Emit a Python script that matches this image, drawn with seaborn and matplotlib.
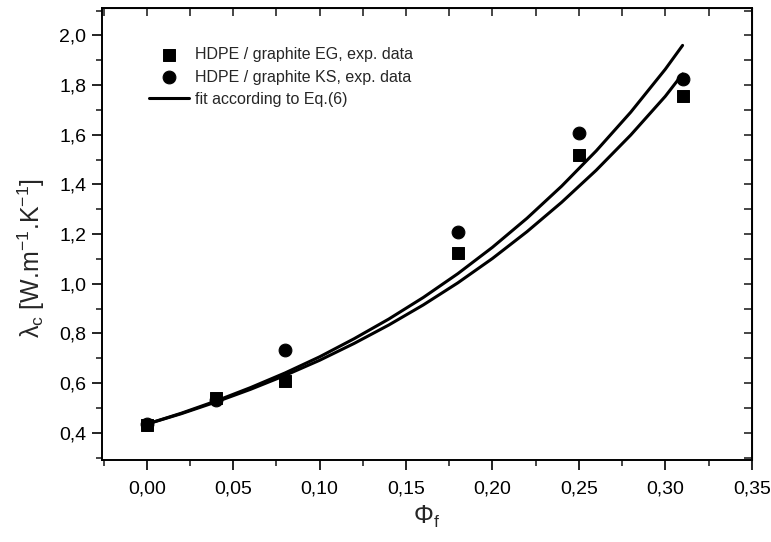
import numpy as np
import pandas as pd
import matplotlib
matplotlib.use("Agg")
import matplotlib.pyplot as plt
from matplotlib.ticker import MultipleLocator, FuncFormatter
import seaborn as sns

phi = [0.00, 0.04, 0.08, 0.18, 0.25, 0.31]
lam_eg = [0.432, 0.541, 0.609, 1.124, 1.518, 1.755]
lam_ks = [0.436, 0.532, 0.733, 1.208, 1.606, 1.823]

phi_fit = [0.00, 0.02, 0.04, 0.06, 0.08, 0.10, 0.12, 0.14, 0.16,
           0.18, 0.20, 0.22, 0.24, 0.26, 0.28, 0.30, 0.31]
fit_ks = [0.435, 0.479, 0.528, 0.582, 0.641, 0.706, 0.779, 0.858, 0.945,
          1.041, 1.147, 1.264, 1.393, 1.535, 1.691, 1.864, 1.960]
fit_eg = [0.435, 0.477, 0.524, 0.575, 0.631, 0.692, 0.760, 0.834, 0.915,
          1.004, 1.102, 1.210, 1.328, 1.457, 1.599, 1.755, 1.845]

sns.set_style("ticks")
plt.rcParams['font.family'] = ['Liberation Sans', 'DejaVu Sans']
plt.rcParams['mathtext.fontset'] = 'custom'
plt.rcParams['mathtext.rm'] = 'Liberation Sans'
plt.rcParams['mathtext.it'] = 'Liberation Sans'

fig = plt.figure(figsize=(7.71, 5.42), dpi=100)
ax = fig.add_axes([0.132, 0.151, 0.843, 0.834])

sns.lineplot(x=phi_fit, y=fit_ks, color='black', lw=2.2, ax=ax,
             label='fit according to Eq.(6)')
sns.lineplot(x=phi_fit, y=fit_eg, color='black', lw=2.2, ax=ax)
sns.scatterplot(x=phi, y=lam_eg, marker='s', s=75, color='black',
                edgecolor='black', ax=ax, label='HDPE / graphite EG, exp. data', zorder=3)
sns.scatterplot(x=phi, y=lam_ks, marker='o', s=85, color='black',
                edgecolor='black', ax=ax, label='HDPE / graphite KS, exp. data', zorder=3)

ax.set_xlim(-0.026, 0.35)
ax.set_ylim(0.29, 2.11)
ax.xaxis.set_major_locator(MultipleLocator(0.05))
ax.xaxis.set_minor_locator(MultipleLocator(0.025))
ax.yaxis.set_major_locator(MultipleLocator(0.2))
ax.yaxis.set_minor_locator(MultipleLocator(0.1))
ax.xaxis.set_major_formatter(FuncFormatter(lambda v, p: f"{v:.2f}".replace('.', ',')))
ax.yaxis.set_major_formatter(FuncFormatter(lambda v, p: f"{v:.1f}".replace('.', ',')))

ax.tick_params(axis='both', which='major', direction='out', length=7, width=1.2,
               labelsize=14, color='black', labelcolor='black')
ax.tick_params(axis='both', which='minor', direction='out', length=4, width=1.2)
ax.tick_params(axis='x', pad=8)
ax.tick_params(axis='y', pad=4)

# inward ticks on top and right spines
secx = ax.secondary_xaxis('top')
secx.xaxis.set_major_locator(MultipleLocator(0.025))
secx.tick_params(direction='in', length=6, width=1.2, labeltop=False)
secy = ax.secondary_yaxis('right')
secy.yaxis.set_major_locator(MultipleLocator(0.1))
secy.tick_params(direction='in', length=6, width=1.2, labelright=False)

for s in ax.spines.values():
    s.set_linewidth(1.4)
    s.set_color('black')
    s.set_visible(True)

ax.set_xlabel(r'$\Phi_\mathrm{f}$', fontsize=18, labelpad=4)
ax.set_ylabel(r'$\lambda_\mathrm{c}$ [W.m$^{-1}$.K$^{-1}$]', fontsize=18)
ax.yaxis.set_label_coords(-0.085, 0.447)

h, l = ax.get_legend_handles_labels()
order = [l.index('HDPE / graphite EG, exp. data'),
         l.index('HDPE / graphite KS, exp. data'),
         l.index('fit according to Eq.(6)')]
ax.legend([h[i] for i in order], [l[i] for i in order], loc='upper left',
          bbox_to_anchor=(0.05, 0.945), frameon=False, fontsize=11.5,
          handlelength=2.5, handletextpad=0.4, labelspacing=0.45)

plt.savefig('out.png', dpi=100)
